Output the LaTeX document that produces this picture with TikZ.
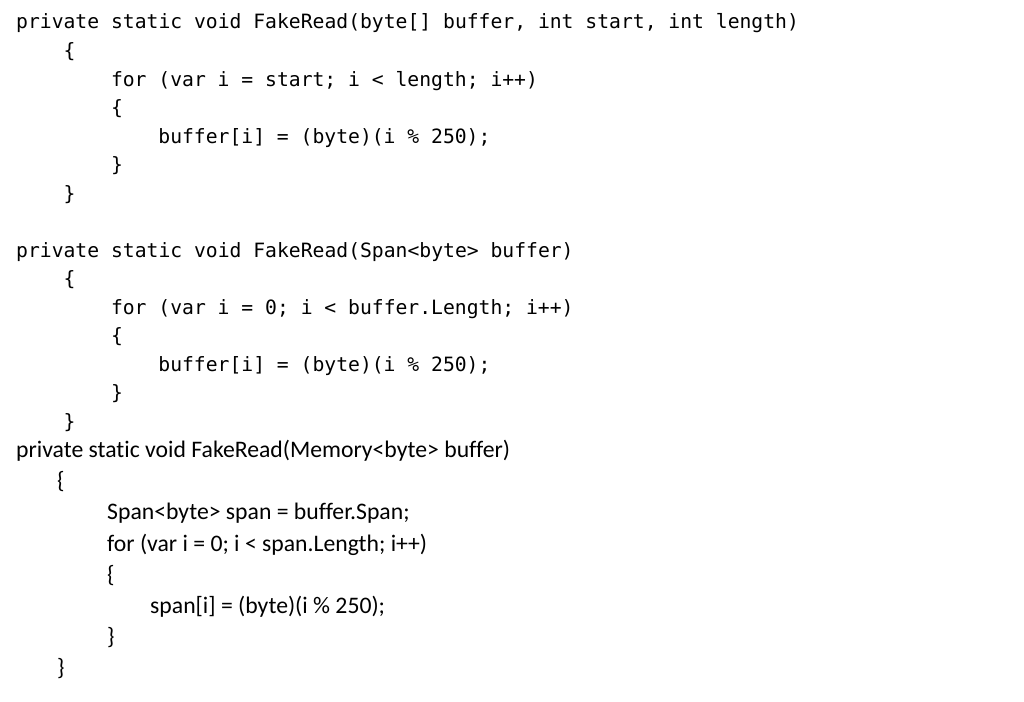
\documentclass[tikz,border=0pt]{standalone}
\usepackage{fontspec}
\setmonofont{DejaVu Sans Mono}
\newfontfamily\calfont[Ligatures=NoCommon]{Carlito}
\begin{document}
\begin{tikzpicture}[x=1pt,y=-1pt,
  mono/.style={anchor=base west,inner sep=0pt,font=\ttfamily\fontsize{19.7}{24}\selectfont},
  prop/.style={anchor=base west,inner sep=0pt,font=\calfont\fontsize{23.7}{28}\selectfont}]
\path[use as bounding box,fill=white] (0,0) rectangle (1024,701);
% block 1
\node[mono] (a1) at (16,29) {private static void FakeRead(byte[] buffer, int start, int length)};
\node[mono] (a2) at (63.4,57.5) {\{};
\node[mono] (a3) at (110.8,86) {for (var i = start; i < length; i++)};
\node[mono] (a4) at (110.8,114.5) {\{};
\node[mono] (a5) at (158.2,143) {buffer[i] = (byte)(i \% 250);};
\node[mono] (a6) at (110.8,171.5) {\}};
\node[mono] (a7) at (63.4,200) {\}};
% block 2
\node[mono] (b1) at (16,257) {private static void FakeRead(Span<byte> buffer)};
\node[mono] (b2) at (63.4,285.5) {\{};
\node[mono] (b3) at (110.8,314) {for (var i = 0; i < buffer.Length; i++)};
\node[mono] (b4) at (110.8,342.5) {\{};
\node[mono] (b5) at (158.2,371) {buffer[i] = (byte)(i \% 250);};
\node[mono] (b6) at (110.8,399.5) {\}};
\node[mono] (b7) at (63.4,428) {\}};
% block 3
\node[prop] (c1) at (16,457) {private static void FakeRead(Memory<byte> buffer)};
\node[prop] (c2) at (57,488) {\{};
\node[prop] (c3) at (107,519) {Span<byte> span = buffer.Span;};
\node[prop] (c4) at (107,551) {for (var i = 0; i < span.Length; i++)};
\node[prop] (c5) at (107,582) {\{};
\node[prop] (c6) at (150,613) {span[i] = (byte)(i \% 250);};
\node[prop] (c7) at (107,644) {\}};
\node[prop] (c8) at (57,675) {\}};
\end{tikzpicture}
\end{document}
